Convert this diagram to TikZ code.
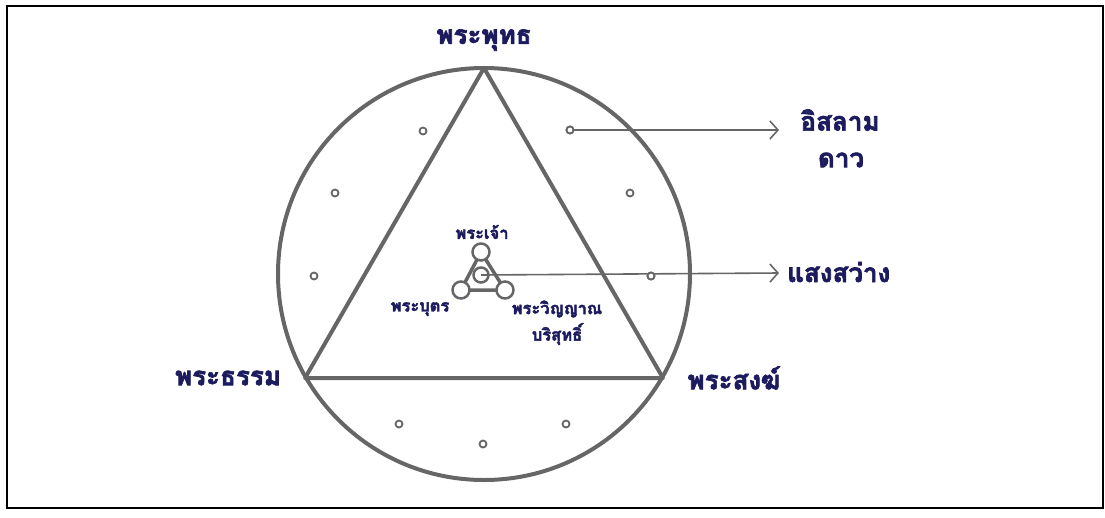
\documentclass[tikz,border=0pt]{standalone}
\usepackage{fontspec}
\newfontfamily\thaifont[Script=Thai, BoldFeatures={FakeBold=2.5}]{Loma}
\definecolor{navy}{HTML}{1B1B5E}
\definecolor{lgray}{HTML}{666666}
\usetikzlibrary{arrows.meta}
\begin{document}
\begin{tikzpicture}[x=1pt,y=-1pt,
  lbl/.style={font=\thaifont\bfseries\fontsize{26}{30}\selectfont, text=navy, inner sep=0pt},
  slbl/.style={font=\thaifont\bfseries\fontsize{16.5}{20}\selectfont, text=navy, inner sep=0pt, align=center},
  thick line/.style={draw=lgray, line width=4pt},
  dot/.style={circle, draw=lgray, line width=1.8pt, minimum size=7pt, inner sep=0pt, fill=white},
  knot/.style={circle, draw=lgray, line width=2.5pt, minimum size=17pt, inner sep=0pt, fill=white},
  pointer/.style={draw=lgray, line width=1.6pt, -{Straight Barb[length=8pt,width=18pt,line width=1.6pt]}}]
\useasboundingbox (0,0) rectangle (1105,517);
\draw[line width=2.8pt, black] (7,6) rectangle (1103,508);
% big circle and triangle
\node[circle, draw=lgray, line width=4pt, minimum size=412pt, inner sep=0pt] (C) at (484,274) {};
\coordinate (T) at (484,68);
\coordinate (L) at (305,378);
\coordinate (R) at (663,378);
\draw[thick line, line join=round] (T) -- (L) -- (R) -- cycle;
% labels
\node[lbl] (buddha) at (484,40) {พระพุทธ};
\node[lbl] (dhamma) at (228,378) {พระธรรม};
\node[lbl] (sangha) at (734,378) {พระสงฆ์};
\node[lbl] (islam) at (840,120) {อิสลาม};
\node[lbl] (dao) at (841,160) {ดาว};
\node[lbl, anchor=west] (light) at (787,272) {แสงสว่าง};
% small dots
\node[dot] (d1) at (423,131) {};
\node[dot] (d2) at (570,130) {};
\node[dot] (d3) at (335,193) {};
\node[dot] (d4) at (630,193) {};
\node[dot] (d5) at (314,276) {};
\node[dot] (d6) at (651,276) {};
\node[dot] (d7) at (399,424) {};
\node[dot] (d8) at (566,424) {};
\node[dot] (d9) at (483,444) {};
% inner trinity
\coordinate (k0) at (481,275);
\draw[draw=lgray, line width=3.5pt, line join=round] (481,252) -- (461,290) -- (505,290) -- cycle;
\node[knot] (k1) at (481,252) {};
\node[knot] (k2) at (461,290) {};
\node[knot] (k3) at (505,290) {};
\node[knot, minimum size=15pt] (kc) at (k0) {};
% pointers
\coordinate (a1) at (779,130);
\coordinate (a2) at (779,273);
\draw[pointer] (d2.center) -- (a1);
\draw[pointer] (kc.center) -- (a2);
\node[dot] at (d2) {};
\node[dot] at (d6) {};
% small labels
\node[slbl] (god) at (482,232) {พระเจ้า};
\node[slbl] (son) at (420,309) {พระบุตร};
\node[slbl] (spirit) at (557,309) {พระวิญญาณ};
\node[slbl] (holy) at (557,334) {บริสุทธิ์};
\end{tikzpicture}
\end{document}
